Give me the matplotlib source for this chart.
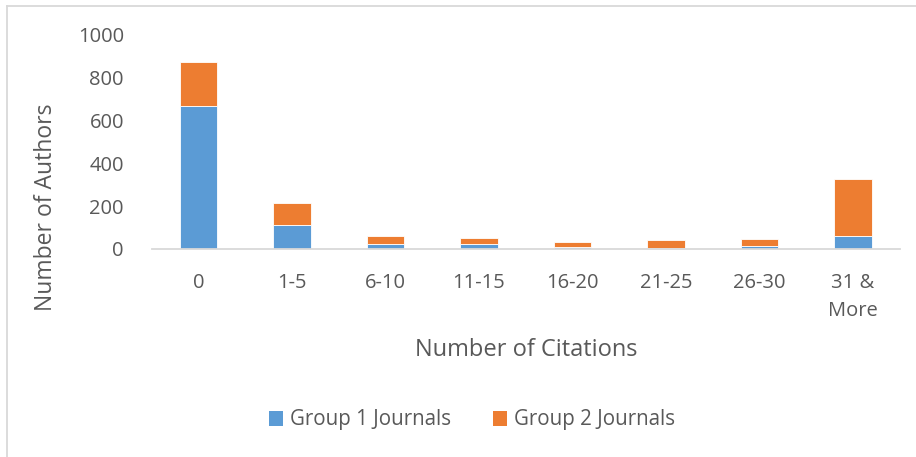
import matplotlib.pyplot as plt
from matplotlib.lines import Line2D
from matplotlib.patches import Patch
import numpy as np

plt.rcParams['font.family'] = ['Open Sans', 'DejaVu Sans']

# Authors per citation bucket, stacked by journal group
categories = ['0', '1-5', '6-10', '11-15', '16-20', '21-25', '26-30', '31 &\nMore']
group1 = [670, 110, 22, 22, 8, 6, 16, 63]
group2 = [202, 107, 41, 31, 27, 38, 31, 263]
series_names = ['Group 1 Journals', 'Group 2 Journals']

BLUE = '#5b9bd5'
ORANGE = '#ed7d31'
TEXT = '#595959'

W, H = 916, 457
fig = plt.figure(figsize=(W / 100, H / 100), dpi=100)

ax = fig.add_axes([151.75 / W, 1 - 249 / H, 748 / W, 214 / H])
x = np.arange(len(categories))
ax.bar(x, group1, width=0.4, color=BLUE, edgecolor='white', linewidth=0.6)
ax.bar(x, group2, width=0.4, bottom=group1, color=ORANGE,
       edgecolor='white', linewidth=0.6)

ax.set_xlim(-0.5, len(categories) - 0.5)
ax.set_ylim(0, 1000)
ax.set_yticks(range(0, 1001, 200))
ax.set_xticks(x)
ax.set_xticklabels(categories, linespacing=1.55)
ax.tick_params(axis='both', length=0, labelsize=14.5, colors=TEXT)
ax.tick_params(axis='x', pad=17)
ax.tick_params(axis='y', pad=20)

for side in ['top', 'right', 'left']:
    ax.spines[side].set_visible(False)
ax.spines['bottom'].set_color('#d9d9d9')
ax.spines['bottom'].set_linewidth(1.3)

fig.text(46 / W, 1 - 207 / H, 'Number of Authors', rotation=90,
         ha='center', va='center', fontsize=16.5, color=TEXT)
fig.text(526 / W, 1 - 350 / H, 'Number of Citations',
         ha='center', va='center', fontsize=17, color=TEXT)

handles = [Patch(facecolor=BLUE), Patch(facecolor=ORANGE)]
fig.legend(handles, series_names, loc='center', bbox_to_anchor=(472 / W, 1 - 420 / H),
           ncol=2, frameon=False, fontsize=14.8, labelcolor=TEXT,
           handlelength=0.7, handleheight=0.7, handletextpad=0.35, columnspacing=2.0)

# outer chart border (left and top edges)
fig.add_artist(Line2D([6.5 / W, 6.5 / W], [0, 1 - 6 / H], color='#d9d9d9', lw=1.3))
fig.add_artist(Line2D([6.5 / W, 1], [1 - 6 / H, 1 - 6 / H], color='#d9d9d9', lw=1.3))

fig.savefig('out.png', dpi=100, facecolor='white')
